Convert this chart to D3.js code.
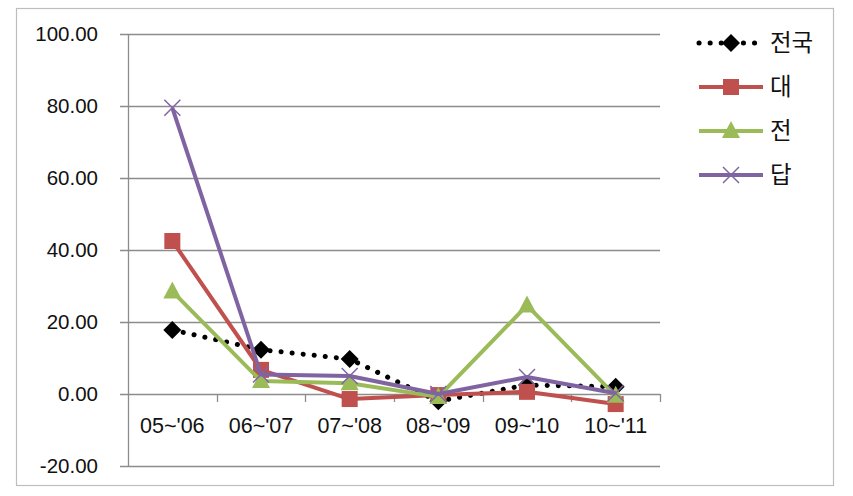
<!DOCTYPE html>
<html><head><meta charset="utf-8">
<script src="https://cdn.jsdelivr.net/npm/d3@7"></script>
<style>body{margin:0;background:#fff;} svg{display:block;}</style>
</head><body>
<script>
const categories = ["05~'06","06~'07","07~'08","08~'09","09~'10","10~'11"];
const seriesNames = ["전국","대","전","답"];
const valsNational = [17.8, 12.3, 9.7, -2.0, 2.5, 2.0];
const valsDae = [42.5, 6.7, -1.4, -0.3, 0.6, -2.8];
const valsJeon = [28.5, 3.6, 3.0, -0.8, 24.6, -0.5];
const valsDap = [79.5, 5.4, 5.0, 0.0, 4.7, 0.2];
const yTicks = [-20, 0, 20, 40, 60, 80, 100];

const W = 853, H = 496;
const svg = d3.select("body").append("svg").attr("width", W).attr("height", H);
svg.append("rect").attr("x",16.5).attr("y",8.5).attr("width",817).attr("height",477)
  .attr("fill","#fff").attr("stroke","#bdbdbd").attr("stroke-width",1.2);

const x = d3.scaleBand().domain(categories).range([128, 660]);
const y = d3.scaleLinear().domain([-20, 100]).range([466, 34]);
const fmt = d3.formatLocale({decimal:".", thousands:",", grouping:[3], currency:["",""], minus:"-"}).format(".2f");

svg.append("g").selectAll("line").data(yTicks).join("line")
  .attr("x1",120).attr("x2",660).attr("y1",d=>Math.round(y(d))+0.5).attr("y2",d=>Math.round(y(d))+0.5)
  .attr("stroke","#8c8c8c").attr("stroke-width",1.3);
svg.append("line").attr("x1",128.5).attr("x2",128.5).attr("y1",34).attr("y2",466)
  .attr("stroke","#8c8c8c").attr("stroke-width",1.3);
svg.append("g").selectAll("text").data(yTicks).join("text")
  .attr("x",98).attr("y",d=>y(d)).attr("dy","0.36em").attr("text-anchor","end")
  .attr("font-family","Liberation Sans, Arial, sans-serif").attr("font-size",20.5).attr("fill","#111")
  .text(d=>fmt(d));
const bounds = categories.map((c,i)=>x(c)).concat([660]);
svg.append("g").selectAll("line").data(bounds.slice(1)).join("line")
  .attr("x1",d=>Math.round(d)+0.5).attr("x2",d=>Math.round(d)+0.5).attr("y1",y(0)).attr("y2",y(0)+8)
  .attr("stroke","#8c8c8c").attr("stroke-width",1.3);
svg.append("g").selectAll("text").data(categories).join("text")
  .attr("x",d=>x(d)+x.bandwidth()/2).attr("y",425).attr("dy","0.36em").attr("text-anchor","middle")
  .attr("font-family","Liberation Sans, Arial, sans-serif").attr("font-size",21.5).attr("fill","#111")
  .text(d=>d);

const cx = c => x(c)+x.bandwidth()/2;
const allSeries = [
  {name:seriesNames[0], vals:valsNational, color:"#000", marker:"diamond", dotted:true},
  {name:seriesNames[1], vals:valsDae, color:"#C0504D", marker:"square"},
  {name:seriesNames[2], vals:valsJeon, color:"#9BBB59", marker:"triangle"},
  {name:seriesNames[3], vals:valsDap, color:"#8064A2", marker:"cross"}
];
const line = d3.line().x((d,i)=>cx(categories[i])).y(d=>y(d));

function drawMarker(g, type, px, py, color){
  if(type==="diamond"){
    g.append("path").attr("d",`M${px},${py-9}L${px+9},${py}L${px},${py+9}L${px-9},${py}Z`).attr("fill",color);
  } else if(type==="square"){
    g.append("rect").attr("x",px-8).attr("y",py-8).attr("width",16).attr("height",16).attr("fill",color);
  } else if(type==="triangle"){
    g.append("path").attr("d",`M${px},${py-10}L${px+9},${py+7}L${px-9},${py+7}Z`).attr("fill",color);
  } else if(type==="cross"){
    g.append("path").attr("d",`M${px-8},${py-8}L${px+8},${py+8}M${px+8},${py-8}L${px-8},${py+8}`)
      .attr("stroke",color).attr("stroke-width",1.5).attr("fill","none");
  }
}

allSeries.forEach(s=>{
  const g = svg.append("g");
  const p = g.append("path").datum(s.vals).attr("d",line).attr("fill","none").attr("stroke",s.color);
  if(s.dotted){ p.attr("stroke-width",5).attr("stroke-dasharray","0.1 11").attr("stroke-linecap","round"); }
  else { p.attr("stroke-width",4).attr("stroke-linejoin","round"); }
  s.vals.forEach((v,i)=>drawMarker(g, s.marker, cx(categories[i]), y(v), s.color));
});

const legY = [43, 87, 131, 175];
allSeries.forEach((s,i)=>{
  const g = svg.append("g");
  const ly = legY[i];
  const l = g.append("line").attr("x1",699).attr("x2",763).attr("y1",ly).attr("y2",ly).attr("stroke",s.color);
  if(s.dotted){ l.attr("stroke-width",5).attr("stroke-dasharray","0.1 11").attr("stroke-linecap","round").attr("x1",699).attr("x2",765); }
  else l.attr("stroke-width",4);
  drawMarker(g, s.marker, 731, ly, s.color);
  g.append("text").attr("x",770).attr("y",ly).attr("dy","0.36em")
    .attr("font-family","Noto Sans CJK KR, sans-serif").attr("font-size",23.5).attr("fill","#111").text(s.name);
});
</script>
</body></html>
